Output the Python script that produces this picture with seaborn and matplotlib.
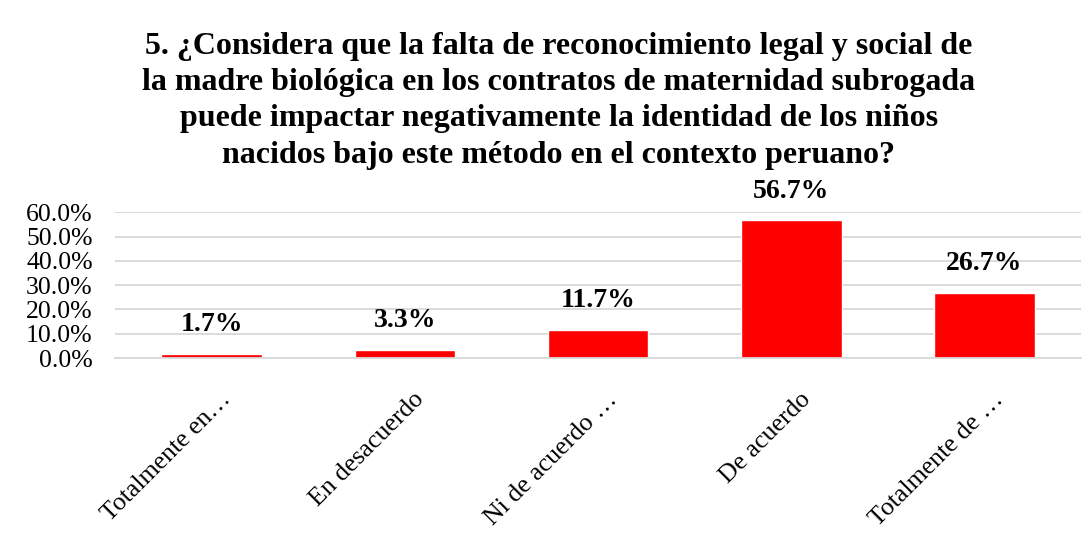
from __future__ import annotations

import matplotlib

matplotlib.use("Agg")

import matplotlib.pyplot as plt
import matplotlib.transforms as mtransforms
import pandas as pd
import seaborn as sns
from matplotlib.ticker import PercentFormatter

categories = ["Totalmente en…", "En desacuerdo", "Ni de acuerdo …", "De acuerdo", "Totalmente de …"]
values = [0.017, 0.033, 0.117, 0.567, 0.267]
value_labels = ["1.7%", "3.3%", "11.7%", "56.7%", "26.7%"]
title = ("5. ¿Considera que la falta de reconocimiento legal y social de\n"
         "la madre biológica en los contratos de maternidad subrogada\n"
         "puede impactar negativamente la identidad de los niños\n"
         "nacidos bajo este método en el contexto peruano?")


def main() -> None:
    sns.set_theme(style="white")
    plt.rcParams["font.family"] = ["Liberation Serif", "DejaVu Serif"]
    plt.rcParams["text.color"] = "black"
    plt.rcParams["xtick.color"] = "black"
    plt.rcParams["ytick.color"] = "black"

    data = pd.DataFrame({"categoria": categories, "valor": values})

    fig = plt.figure(figsize=(10.91, 5.4), dpi=100)
    ax = fig.add_axes([0.1054, 0.337, 0.8856, 0.270])
    sns.barplot(data=data, x="categoria", y="valor", color="#ff0000", width=0.52, saturation=1, ax=ax)

    ax.set_ylim(0, 0.6)
    ax.set_xlim(-0.5, len(categories) - 0.5)
    ax.set_yticks([0, 0.1, 0.2, 0.3, 0.4, 0.5, 0.6])
    ax.yaxis.set_major_formatter(PercentFormatter(1.0, decimals=1))
    ax.grid(axis="y", color="#d9d9d9", linewidth=1.3)
    ax.set_axisbelow(True)
    for side in ["top", "right", "left"]:
        ax.spines[side].set_visible(False)
    ax.spines["bottom"].set_color("#d9d9d9")
    ax.spines["bottom"].set_linewidth(1.3)
    ax.tick_params(axis="y", length=0, pad=16, labelsize=18.5)
    ax.tick_params(axis="x", length=0, pad=22, labelsize=18.5)
    ax.set_xlabel("")
    ax.set_ylabel("")

    offset = mtransforms.ScaledTranslation(0.08, 0.0, fig.dpi_scale_trans)
    for label in ax.get_xticklabels():
        label.set_rotation(45)
        label.set_ha("right")
        label.set_rotation_mode("anchor")
        label.set_transform(label.get_transform() + offset)

    for patch, text in zip(ax.patches, value_labels):
        ax.annotate(text, (patch.get_x() + patch.get_width() / 2, patch.get_height()),
                    xytext=(0, 12), textcoords="offset points", ha="center", va="bottom",
                    fontsize=20, fontweight="bold", annotation_clip=False)

    fig.text(0.512, 0.94, title, ha="center", va="top", fontsize=23, fontweight="bold",
             linespacing=1.32)

    fig.savefig("out.png", dpi=100)
    plt.close(fig)


if __name__ == "__main__":
    main()
